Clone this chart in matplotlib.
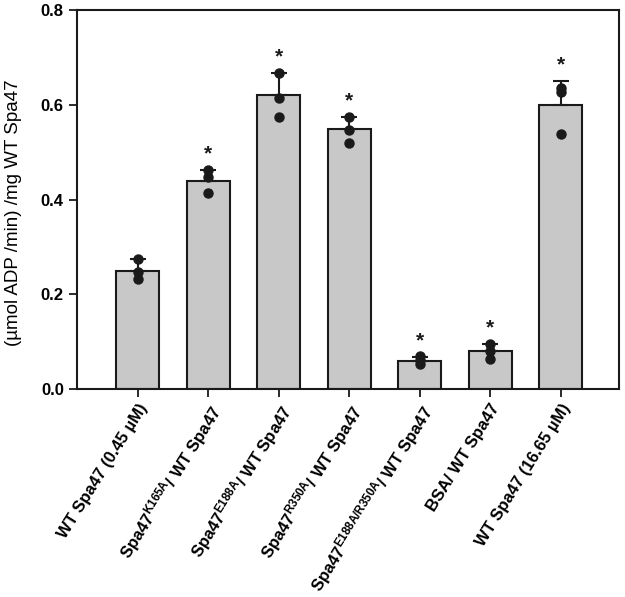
import matplotlib
matplotlib.use("Agg")
import matplotlib.pyplot as plt
import numpy as np

plt.rcParams['font.family'] = ['Liberation Sans', 'DejaVu Sans']
plt.rcParams['mathtext.fontset'] = 'custom'
plt.rcParams['mathtext.rm'] = 'Liberation Sans:bold'
plt.rcParams['mathtext.bf'] = 'Liberation Sans:bold'
plt.rcParams['mathtext.it'] = 'Liberation Sans:bold'

categories = [
    "WT Spa47 (0.45 µM)",
    r"Spa47$^{\mathbf{K165A}}$/ WT Spa47",
    r"Spa47$^{\mathbf{E188A}}$/ WT Spa47",
    r"Spa47$^{\mathbf{R350A}}$/ WT Spa47",
    r"Spa47$^{\mathbf{E188A/R350A}}$/ WT Spa47",
    "BSA/ WT Spa47",
    "WT Spa47 (16.65 µM)",
]
means = [0.250, 0.440, 0.620, 0.548, 0.060, 0.080, 0.599]
errors = [0.024, 0.022, 0.048, 0.027, 0.007, 0.014, 0.052]
points = [
    [0.274, 0.248, 0.232],
    [0.462, 0.448, 0.414],
    [0.668, 0.615, 0.575],
    [0.575, 0.547, 0.520],
    [0.070, 0.061, 0.053],
    [0.095, 0.081, 0.063],
    [0.635, 0.628, 0.538],
]
significant = [False, True, True, True, True, True, True]
yticks = [0.0, 0.2, 0.4, 0.6, 0.8]

fig = plt.figure(figsize=(6.25, 5.97), dpi=100)
ax = fig.add_axes([0.1232, 0.3484, 0.8672, 0.6348])

x = np.arange(len(categories))
ax.bar(x, means, width=0.61, color='#c8c8c8', edgecolor='#1a1a1a', linewidth=1.5, zorder=2)
ax.errorbar(x, means, yerr=[np.zeros(len(means)), errors], fmt='none',
            ecolor='#1a1a1a', elinewidth=1.5, capsize=6, capthick=1.5, zorder=3)
for i, pts in enumerate(points):
    ax.plot([x[i]] * len(pts), pts, 'o', color='#1a1a1a', markersize=6.5, zorder=4)
for i, sig in enumerate(significant):
    if sig:
        ax.text(x[i], means[i] + errors[i] + 0.034, '*', ha='center', va='center',
                fontsize=15, fontweight='bold', color='#1a1a1a')

ax.set_xlim(-0.86, 6.83)
ax.set_ylim(0, 0.8)
ax.set_yticks(yticks)
ax.set_yticklabels([f"{v:.1f}" for v in yticks], fontsize=12, fontweight='bold')
ax.set_xticks(x)
ax.set_xticklabels(categories, rotation=58, ha='right', va='top', rotation_mode='anchor',
                   fontsize=12, fontweight='bold')
ax.tick_params(axis='both', direction='out', length=6, width=1.3, color='#1a1a1a')
ax.tick_params(axis='x', pad=3)
for s in ax.spines.values():
    s.set_linewidth(1.5)
    s.set_color('#1a1a1a')
ax.set_ylabel("(µmol ADP /min) /mg WT Spa47", fontsize=13.5, fontweight='medium')
ax.yaxis.set_label_coords(-0.102, 0.465)

fig.savefig("out.png", dpi=100)
